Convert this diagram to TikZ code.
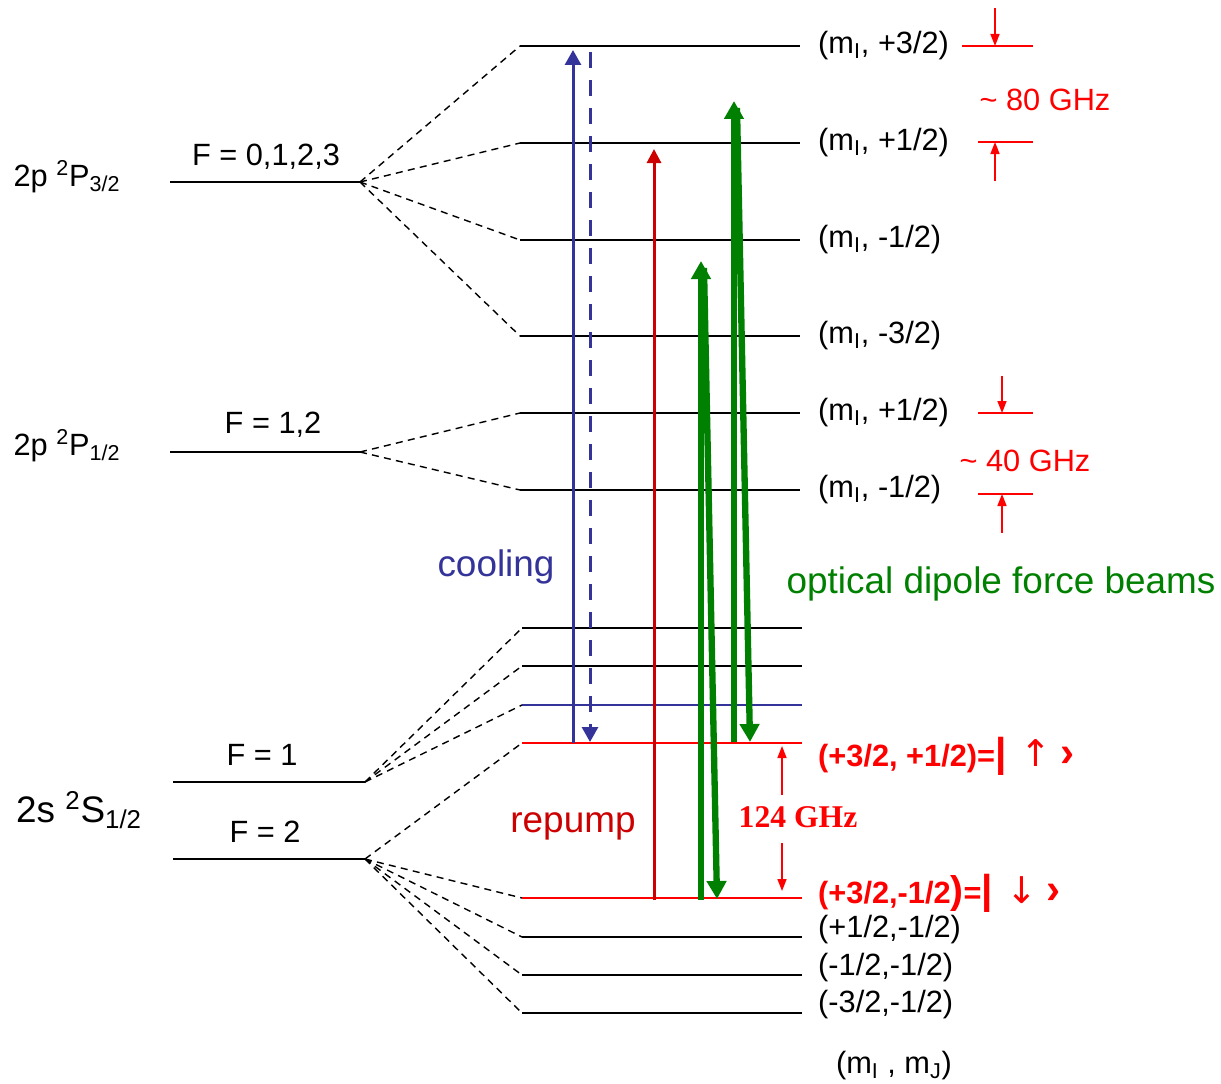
\documentclass[tikz,border=0pt]{standalone}
\usepackage{fontspec}
\setmainfont{Liberation Sans}
\newfontfamily\serifbold{Liberation Serif}[BoldFont={Liberation Serif Bold}]
\newfontfamily\arrowfont{DejaVu Sans}
\usetikzlibrary{arrows.meta}
\definecolor{coolblue}{RGB}{51,51,153}
\definecolor{pumpred}{RGB}{204,0,0}
\definecolor{annred}{RGB}{255,0,0}
\definecolor{beamgreen}{RGB}{0,128,0}
\newcommand{\fs}[1]{\fontsize{#1}{#1}\selectfont}
\newcommand{\bigbar}{{\fs{23}|}}
\newcommand{\spinarrow}[1]{\hspace{0.45em}{\mdseries\arrowfont\fs{21}#1}\hspace{0.3em}{\fs{24}›}}

\begin{document}
\begin{tikzpicture}[x=0.2mm, y=-0.2mm, font=\fs{17.5},
		level/.style={line width=1.1pt},
		split/.style={line width=0.8pt, dash pattern=on 4pt off 3pt},
		cool/.style={coolblue, line width=1.7pt, -{Triangle[width=3.2mm, length=3mm]}},
		pump/.style={pumpred, line width=1.7pt, -{Triangle[width=2.8mm, length=2.8mm]}},
		beam/.style={beamgreen, line width=3.6pt, -{Triangle[width=3.8mm, length=3.6mm]}},
		gap/.style={annred, line width=0.9pt, -{Triangle[width=1.8mm, length=2.4mm]}},
		sub/.style={anchor=west}]
		\useasboundingbox (0,0) rectangle (1221,1084);
		% fine-structure levels
		\coordinate (f3l) at (170,182); \coordinate (f3r) at (360,182);
		\coordinate (f1l) at (170,452); \coordinate (f1r) at (360,452);
		\coordinate (s1l) at (173,782); \coordinate (s1r) at (365,782);
		\coordinate (s2l) at (173,859); \coordinate (s2r) at (365,859);
		\foreach \n in {f3,f1,s1,s2}
			\draw[level] (\n l) -- (\n r);
		\node (tp3) at (67,177) {2p \textsuperscript{2}P\textsubscript{3/2}};
		\node (tp1) at (67,446) {2p \textsuperscript{2}P\textsubscript{1/2}};
		\node[font=\fs{21}] (ts) at (79,810) {2s \textsuperscript{2}S\textsubscript{1/2}};
		\node (ff3) at (266,157) {F = 0,1,2,3};
		\node (ff1) at (273,425) {F = 1,2};
		\node (fs1) at (262,755) {F = 1};
		\node (fs2) at (265,832) {F = 2};
		% high-field sublevels
		\foreach \n/\y in {pa/46,pb/143,pc/240,pd/336,qa/413,qb/490} {
			\coordinate (\n l) at (520,\y); \coordinate (\n r) at (800,\y);
			\draw[level] (\n l) -- (\n r);
		}
		\foreach \n/\y/\c in {sa/628/black,sb/666/black,sc/705/coolblue,sd/743/annred,
				se/898/annred,sf/937/black,sg/975/black,sh/1013/black} {
			\coordinate (\n l) at (522,\y); \coordinate (\n r) at (802,\y);
			\draw[level, \c] (\n l) -- (\n r);
		}
		% splitting
		\foreach \n in {pa,pb,pc,pd} \draw[split] (f3r) -- (\n l);
		\foreach \n in {qa,qb} \draw[split] (f1r) -- (\n l);
		\foreach \n in {sa,sb,sc} \draw[split] (s1r) -- (\n l);
		\foreach \n in {sd,se,sf,sg,sh} \draw[split] (s2r) -- (\n l);
		% sublevel labels
		\node[sub] (lpa) at (812,46) {(m\textsubscript{I}, +3/2)};
		\node[sub] (lpb) at (812,143) {(m\textsubscript{I}, +1/2)};
		\node[sub] (lpc) at (812,240) {(m\textsubscript{I}, -1/2)};
		\node[sub] (lpd) at (812,336) {(m\textsubscript{I}, -3/2)};
		\node[sub] (lqa) at (812,413) {(m\textsubscript{I}, +1/2)};
		\node[sub] (lqb) at (812,490) {(m\textsubscript{I}, -1/2)};
		\node[sub, annred, font=\fs{17.5}\bfseries] (lup) at (812,756)
			{(+3/2, +1/2)=\bigbar\spinarrow{↑}};
		\node[sub, annred, font=\fs{17.5}\bfseries] (ldn) at (812,893)
			{(+3/2,-1/2{\fs{22})}=\bigbar\spinarrow{↓}};
		\node[sub] (lsf) at (812,930) {(+1/2,-1/2)};
		\node[sub] (lsg) at (812,968) {(-1/2,-1/2)};
		\node[sub] (lsh) at (812,1005) {(-3/2,-1/2)};
		\node (lmm) at (894,1066) {(m\textsubscript{I} , m\textsubscript{J})};
		% transitions
		\coordinate (c0) at (573,743); \coordinate (c1) at (573,50);
		\coordinate (d0) at (590,52); \coordinate (d1) at (590,742);
		\draw[cool] (c0) -- (c1);
		\draw[cool, dash pattern=on 3.2mm off 2.4mm] (d0) -- (d1);
		\coordinate (r0) at (654,900); \coordinate (r1) at (654,149);
		\draw[pump] (r0) -- (r1);
		\coordinate (g0) at (701,900); \coordinate (g1) at (701,261);
		\coordinate (g2) at (704,268); \coordinate (g3) at (717,899);
		\coordinate (g4) at (734,742); \coordinate (g5) at (734,101);
		\coordinate (g6) at (737,108); \coordinate (g7) at (750,742);
		\draw[beam] (g0) -- (g1);
		\draw[beam] (g2) -- (g3);
		\draw[beam] (g4) -- (g5);
		\draw[beam] (g6) -- (g7);
		\node[coolblue, font=\fs{21}] (tcool) at (496,567) {cooling};
		\node[pumpred, font=\fs{21}] (tpump) at (573,826) {repump};
		\node[beamgreen, font=\fs{21}] (tbeam) at (1001,584) {optical dipole force beams};
		% splittings
		\coordinate (h0) at (962,46); \coordinate (h1) at (1033,46);
		\coordinate (h2) at (978,142); \coordinate (h3) at (1033,142);
		\coordinate (h4) at (978,413); \coordinate (h5) at (1033,413);
		\coordinate (h6) at (978,494); \coordinate (h7) at (1033,494);
		\foreach \a/\b in {h0/h1,h2/h3,h4/h5,h6/h7} \draw[annred, line width=0.9pt] (\a) -- (\b);
		\draw[gap] (995,8) -- (995,46);
		\draw[gap] (995,181) -- (995,142);
		\draw[gap] (1002,376) -- (1002,413);
		\draw[gap] (1002,533) -- (1002,494);
		\node[annred] (t80) at (1045,100) {\textasciitilde{} 80 GHz};
		\node[annred] (t40) at (1025,461) {\textasciitilde{} 40 GHz};
		\node[annred, font=\fs{18}\serifbold\bfseries] (t124) at (798,817) {124 GHz};
		\draw[gap] (782,795) -- (782,746);
		\draw[gap] (782,843) -- (782,891);
	\end{tikzpicture}
\end{document}
